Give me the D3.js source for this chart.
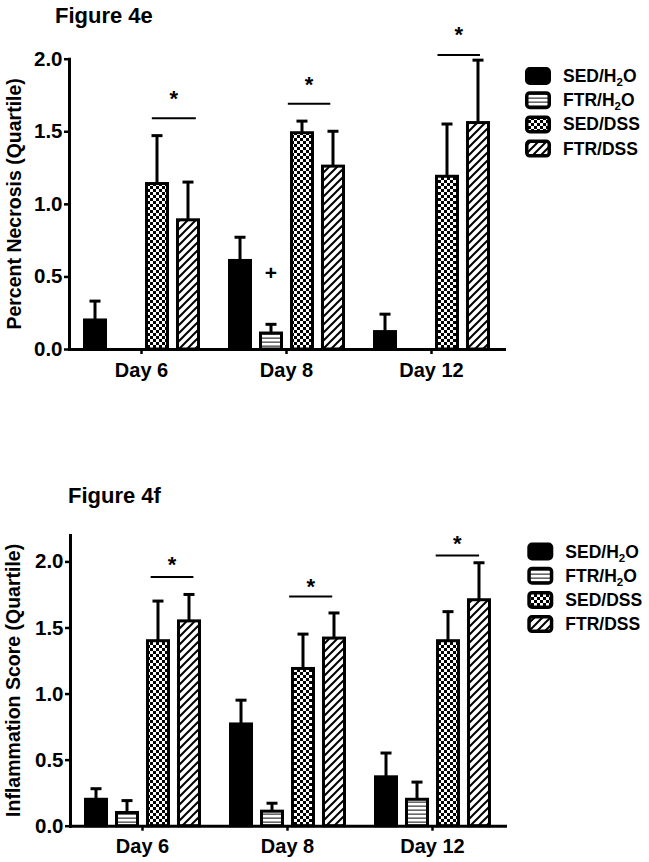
<!DOCTYPE html>
<html><head><meta charset="utf-8">
<script src="https://cdn.jsdelivr.net/npm/d3@7"></script>
<style>
body{margin:0;background:#fff}
text{font-family:"Liberation Sans",Arial,Helvetica,sans-serif;font-weight:bold;fill:#000}
</style>
</head><body>
<svg id="c" width="649" height="862"></svg>
<script>
// ---------- data ----------
const days = ["Day 6", "Day 8", "Day 12"];
const series = ["SED/H2O", "FTR/H2O", "SED/DSS", "FTR/DSS"];
const yTickValues = [0, 0.5, 1.0, 1.5, 2.0];

// Figure 4e: Percent Necrosis (rows = days, columns = series)
const necrosisMean = [[0.20, 0, 1.14, 0.89], [0.61, 0.11, 1.49, 1.26], [0.12, 0, 1.19, 1.56]];
const necrosisSEM  = [[0.13, 0, 0.33, 0.26], [0.16, 0.06, 0.08, 0.24], [0.12, 0, 0.36, 0.43]];
// significance bars: x in bar-slot units, y in data units
const necrosisSig = [
  {day: "Day 6",  from: 2.22, to: 3.64, y: 1.589, starY: 1.756},
  {day: "Day 8",  from: 1.93, to: 3.30, y: 1.690, starY: 1.853},
  {day: "Day 12", from: 2.08, to: 3.45, y: 2.025, starY: 2.197}
];
const necrosisPlus = [{day: "Day 8", series: "FTR/H2O", y: 0.53}];

// Figure 4f: Inflammation Score
const inflamMean = [[0.20, 0.10, 1.40, 1.55], [0.77, 0.11, 1.19, 1.42], [0.37, 0.20, 1.40, 1.71]];
const inflamSEM  = [[0.08, 0.09, 0.30, 0.20], [0.18, 0.06, 0.26, 0.19], [0.18, 0.13, 0.22, 0.28]];
const inflamSig = [
  {day: "Day 6",  from: 2.15, to: 3.53, y: 1.882, starY: 2.008},
  {day: "Day 8",  from: 1.94, to: 3.33, y: 1.735, starY: 1.841},
  {day: "Day 12", from: 1.99, to: 3.39, y: 2.045, starY: 2.172}
];
const inflamPlus = [];

// ---------- drawing ----------
const svg = d3.select("#c");
const defs = svg.append("defs");

// horizontal lines
const ph = defs.append("pattern").attr("id", "hl").attr("patternUnits", "userSpaceOnUse")
  .attr("width", 4).attr("height", 4);
ph.append("rect").attr("width", 4).attr("height", 4).attr("fill", "#fff");
ph.append("rect").attr("x", 0).attr("y", 1.5).attr("width", 4).attr("height", 1.3).attr("fill", "#444");

// checker
const pc = defs.append("pattern").attr("id", "ck").attr("patternUnits", "userSpaceOnUse")
  .attr("width", 6).attr("height", 6);
pc.append("rect").attr("width", 6).attr("height", 6).attr("fill", "#fff");
pc.append("rect").attr("x", 0).attr("y", 0).attr("width", 3).attr("height", 3).attr("fill", "#000");
pc.append("rect").attr("x", 3).attr("y", 3).attr("width", 3).attr("height", 3).attr("fill", "#000");

// diagonal
const pd = defs.append("pattern").attr("id", "dg").attr("patternUnits", "userSpaceOnUse")
  .attr("width", 8).attr("height", 8);
pd.append("rect").attr("width", 8).attr("height", 8).attr("fill", "#fff");
pd.append("path").attr("d", "M0,8 L8,0 M-2,2 L2,-2 M6,10 L10,6")
  .attr("stroke", "#000").attr("stroke-width", 2);

const fills = {"SED/H2O": "#000", "FTR/H2O": "url(#hl)", "SED/DSS": "url(#ck)", "FTR/DSS": "url(#dg)"};

function labelWithSub(sel, name) {
  const i = name.indexOf("H2O");
  if (i < 0) { sel.text(name); return; }
  sel.append("tspan").text(name.slice(0, i + 1));
  sel.append("tspan").attr("font-size", 11.5).attr("dy", 4).text("2");
  sel.append("tspan").attr("dy", -4).text("O" + name.slice(i + 3));
}

function drawChart(cfg) {
  const g = svg.append("g");
  const x0 = d3.scaleBand().domain(days).range(cfg.xRange).paddingInner(0).paddingOuter(0);
  const x1 = d3.scaleBand().domain(series).range([0, x0.bandwidth()])
    .paddingInner(7 / 31).paddingOuter(0.452);
  const y = d3.scaleLinear().domain(cfg.yDomain).range(cfg.yRange);
  const slotX = (day, s) => x0(day) + x1.step() * (x1.paddingOuter() + s);

  const rows = [];
  days.forEach((d, i) => series.forEach((s, j) => {
    rows.push({day: d, s: s, v: cfg.mean[i][j], e: cfg.sem[i][j]});
  }));
  const bw = x1.bandwidth();

  // error bars
  const eb = rows.filter(r => r.v > 0 && r.e > 0);
  g.selectAll(".ev").data(eb).join("line")
    .attr("x1", r => x0(r.day) + x1(r.s) + bw / 2).attr("x2", r => x0(r.day) + x1(r.s) + bw / 2)
    .attr("y1", r => y(r.v)).attr("y2", r => y(r.v + r.e))
    .attr("stroke", "#000").attr("stroke-width", 3);
  g.selectAll(".ec").data(eb).join("line")
    .attr("x1", r => x0(r.day) + x1(r.s) + bw / 2 - 5.5).attr("x2", r => x0(r.day) + x1(r.s) + bw / 2 + 5.5)
    .attr("y1", r => y(r.v + r.e)).attr("y2", r => y(r.v + r.e))
    .attr("stroke", "#000").attr("stroke-width", 3);

  // bars
  g.selectAll(".bar").data(rows.filter(r => r.v > 0)).join("rect")
    .attr("x", r => x0(r.day) + x1(r.s) + 1.5).attr("width", bw - 3)
    .attr("y", r => y(r.v)).attr("height", r => y(0) - y(r.v))
    .attr("fill", r => fills[r.s]).attr("stroke", "#000").attr("stroke-width", 3);

  // axes
  const ya = d3.axisLeft(y).tickValues(yTickValues).tickFormat(d3.format(".1f"))
    .tickSize(5).tickSizeOuter(0).tickPadding(1.5);
  const yg = g.append("g").attr("transform", `translate(${cfg.xRange[0]},0)`).call(ya);
  yg.select(".domain").attr("stroke-width", 3).attr("stroke-linecap", "square");
  yg.selectAll(".tick line").attr("stroke-width", 2.5);
  yg.selectAll(".tick text").attr("font-size", 20.5).attr("font-family", null);

  const xa = d3.axisBottom(x0).tickSize(5).tickSizeOuter(0).tickPadding(cfg.xPad);
  const xg = g.append("g").attr("transform", `translate(0,${y(0)})`).call(xa);
  xg.select(".domain").attr("stroke-width", 3).attr("stroke-linecap", "square");
  xg.selectAll(".tick line").attr("stroke-width", 2.5);
  xg.selectAll(".tick text").attr("font-size", 20).attr("font-family", null);

  // significance
  g.selectAll(".sig").data(cfg.sig).join("line")
    .attr("x1", d => slotX(d.day, d.from)).attr("x2", d => slotX(d.day, d.to))
    .attr("y1", d => y(d.y)).attr("y2", d => y(d.y))
    .attr("stroke", "#000").attr("stroke-width", 2);
  g.selectAll(".star").data(cfg.sig).join("text")
    .attr("x", d => slotX(d.day, (d.from + d.to) / 2)).attr("y", d => y(d.starY) + 12)
    .attr("text-anchor", "middle").attr("font-size", 22).text("*");
  g.selectAll(".plus").data(cfg.plus).join("text")
    .attr("x", d => x0(d.day) + x1(d.series) + bw / 2).attr("y", d => y(d.y) + 7.5)
    .attr("text-anchor", "middle").attr("font-size", 21).text("+");

  // titles
  g.append("text").attr("x", cfg.titlePos[0]).attr("y", cfg.titlePos[1])
    .attr("font-size", 22).text(cfg.title);
  const yc = (cfg.yRange[0] + cfg.yRange[1]) / 2;
  g.append("text").attr("transform", `translate(${cfg.ylabX},${yc}) rotate(-90)`)
    .attr("text-anchor", "middle").attr("font-size", 19.5).text(cfg.ylabel);

  // legend
  const lg = g.append("g");
  series.forEach((s, i) => {
    const cy = cfg.legend[1] + i * 24.2;
    lg.append("rect").attr("x", cfg.legend[0] + 1.75).attr("y", cy - 7.25)
      .attr("width", 22.5).attr("height", 14.5).attr("rx", 3)
      .attr("fill", fills[s]).attr("stroke", "#000").attr("stroke-width", 3.5);
    const t = lg.append("text").attr("x", cfg.legend[0] + 38).attr("y", cy + 6)
      .attr("font-size", 17.5);
    labelWithSub(t, s);
  });
}

drawChart({
  mean: necrosisMean, sem: necrosisSEM, sig: necrosisSig, plus: necrosisPlus,
  yDomain: [0, 2.0], yRange: [349, 58.7], xRange: [69, 504], xPad: 9,
  title: "Figure 4e", titlePos: [55, 23], ylabel: "Percent Necrosis (Quartile)", ylabX: 21,
  legend: [525, 76]
});
drawChart({
  mean: inflamMean, sem: inflamSEM, sig: inflamSig, plus: inflamPlus,
  yDomain: [0, 2.2], yRange: [825.7, 535], xRange: [70, 505], xPad: 8,
  title: "Figure 4f", titlePos: [68, 503], ylabel: "Inflammation Score (Quartile)", ylabX: 20,
  legend: [527.3, 551.5]
});
</script>
</body></html>
